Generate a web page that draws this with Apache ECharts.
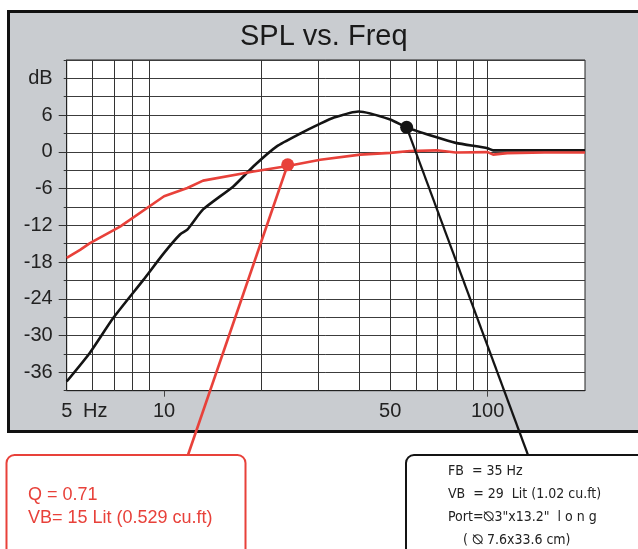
<!DOCTYPE html>
<html><head><meta charset="utf-8">
<script src="https://cdn.jsdelivr.net/npm/echarts@6/dist/echarts.min.js"></script>
<style>html,body{margin:0;padding:0;background:#fff}#c{width:638px;height:549px}</style>
</head><body><div id="c"></div>
<script>
// ---- data ----
const freqBlack = [5, 5.9, 6.97, 8.63, 10, 11.2, 11.8, 13.2, 16.4, 18.9, 22.3, 26.4, 30.4, 33.5, 39.9, 50, 56.2, 68.8, 79.7, 99.9, 104, 150, 200];
const splBlack  = [-37.5, -32.8, -27.1, -20.9, -16.5, -13.5, -12.7, -9.4, -5.6, -2.35, 0.9, 3.0, 4.6, 5.6, 6.6, 5.3, 4.0, 2.45, 1.47, 0.6, 0.25, 0.25, 0.25];
const freqRed = [5, 5.5, 5.9, 7.31, 10, 11.8, 13.2, 18.9, 24.1, 30.4, 40.4, 50, 57.6, 69.6, 79.7, 100, 104, 115, 150, 200];
const splRed  = [-17.3, -16, -14.9, -12.2, -7.25, -5.9, -4.7, -3.2, -2.3, -1.3, -0.45, -0.16, 0.15, 0.25, -0.1, -0.05, -0.45, -0.2, -0.1, -0.1];
const markerRed = [24.1, -2.1];
const markerBlack = [56.2, 4.0];
const xGridFreqs = [6, 7, 8, 9, 20, 30, 40, 50, 60, 70, 80, 90, 100];
const xLabelFreqs = [5, 10, 50, 100];
const xTickFreqs = [10, 100];
const yLabelValues = [12, 6, 0, -6, -12, -18, -24, -30, -36];
const yLongTicks = [6, 0, -6, -12, -18, -24, -30, -36];
const yUnitValue = 12, yUnitText = 'dB';
const titleText = 'SPL vs. Freq';
const xUnitText = 'Hz';
const redBoxLines = ['Q = 0.71', 'VB= 15 Lit (0.529 cu.ft)'];
const blackBoxLines = ['FB  = 35 Hz', 'VB  = 29  Lit (1.02 cu.ft)', 'Port=\u29B03"x13.2"  l o n g', '( \u29B0 7.6x33.6 cm)'];

const RED = '#e8413a', BLK = '#141414';
const FONT = '"Liberation Sans", Arial, Helvetica, sans-serif';
const NFONT = '"DejaVu Sans Condensed", "DejaVu Sans", sans-serif';

const chart = echarts.init(document.getElementById('c'));
const graphics = [
  {type:'rect', z:-10, shape:{x:8.5, y:11.5, width:640, height:420}, style:{fill:'#c9ccd0', stroke:'#111', lineWidth:3}},
  {type:'text', z:10, x:83, y:411.5, style:{text:xUnitText, font:'20px ' + FONT, fill:'#222', verticalAlign:'middle'}},
  {type:'rect', z:10, shape:{x:6.5, y:455, width:239, height:130, r:8}, style:{fill:'#fff', stroke:RED, lineWidth:2}},
  {type:'rect', z:10, shape:{x:406, y:455, width:260, height:130, r:8}, style:{fill:'#fff', stroke:BLK, lineWidth:2}}
];
redBoxLines.forEach((t, i) => graphics.push({type:'text', z:11, x:28, y:495.5 + i * 23, style:{text:t, font:'18px ' + FONT, fill:RED, verticalAlign:'middle'}}));
blackBoxLines.forEach((t, i) => graphics.push({type:'text', z:11, x:(i === 3 ? 463 : 448), y:471.5 + i * 22.8, style:{text:t, font:'14px ' + NFONT, fill:'#222', verticalAlign:'middle'}}));

chart.setOption({
  animation: false,
  title: {text: titleText, left: 240, top: 22, padding: 0, textStyle: {fontFamily: FONT, fontSize: 29, fontWeight: 'normal', color: '#1a1a1a'}},
  grid: {left: 66.7, top: 60, right: 53, bottom: 158.3, show: true, backgroundColor: '#fff', borderColor: '#222', borderWidth: 1},
  xAxis: {
    type: 'log', logBase: 10, min: 5, max: 200,
    axisLine: {show: true, onZero: false, lineStyle: {color: '#222', width: 1}},
    axisTick: {show: true, customValues: xTickFreqs, length: 6, lineStyle: {color: '#444'}},
    axisLabel: {customValues: xLabelFreqs, margin: 11, fontFamily: FONT, fontSize: 20, color: '#222'},
    splitLine: {show: false}, minorTick: {show: false}, minorSplitLine: {show: false}
  },
  yAxis: [{
    type: 'value', min: -39, max: 15, interval: 3,
    axisLine: {show: true, lineStyle: {color: '#222'}},
    axisTick: {show: true, length: 3, lineStyle: {color: '#333'}},
    axisLabel: {customValues: yLabelValues, margin: 14, fontFamily: FONT, fontSize: 20, color: '#222',
      formatter: v => (v === yUnitValue ? yUnitText : String(v))},
    splitLine: {show: true, lineStyle: {color: '#3c3c3c', width: 1}}
  }, {
    type: 'value', min: -39, max: 15, position: 'left',
    axisLine: {show: false}, axisLabel: {show: false}, splitLine: {show: false},
    axisTick: {show: true, customValues: yLongTicks, length: 8, lineStyle: {color: '#333'}}
  }],
  graphic: graphics,
  series: [
    {type: 'line', data: [[5, -39]], symbol: 'none', silent: true, lineStyle: {opacity: 0}, z: 1,
     markLine: {silent: true, z: 1, symbol: ['none', 'none'], label: {show: false}, emphasis: {disabled: true},
       lineStyle: {color: '#333', width: 1, type: 'solid'}, data: xGridFreqs.map(v => ({xAxis: v}))}},
    {type: 'line', data: freqBlack.map((f, i) => [f, splBlack[i]]), symbol: 'none', smooth: 0.2, z: 3,
     lineStyle: {color: BLK, width: 2.6}},
    {type: 'line', data: freqRed.map((f, i) => [f, splRed[i]]), symbol: 'none', z: 4,
     lineStyle: {color: RED, width: 2.6}},
    {type: 'scatter', data: [markerRed], symbolSize: 13, itemStyle: {color: RED, opacity: 1}, z: 6, clip: false,
     markLine: {silent: true, z: 5, symbol: ['none', 'none'], label: {show: false}, emphasis: {disabled: true},
       lineStyle: {color: RED, width: 2.6, type: 'solid'}, data: [[{coord: markerRed}, {x: 188, y: 455}]]}},
    {type: 'scatter', data: [markerBlack], symbolSize: 13, itemStyle: {color: BLK, opacity: 1}, z: 6, clip: false,
     markLine: {silent: true, z: 5, symbol: ['none', 'none'], label: {show: false}, emphasis: {disabled: true},
       lineStyle: {color: BLK, width: 2.2, type: 'solid'}, data: [[{coord: markerBlack}, {x: 528, y: 455}]]}}
  ]
});
</script></body></html>
